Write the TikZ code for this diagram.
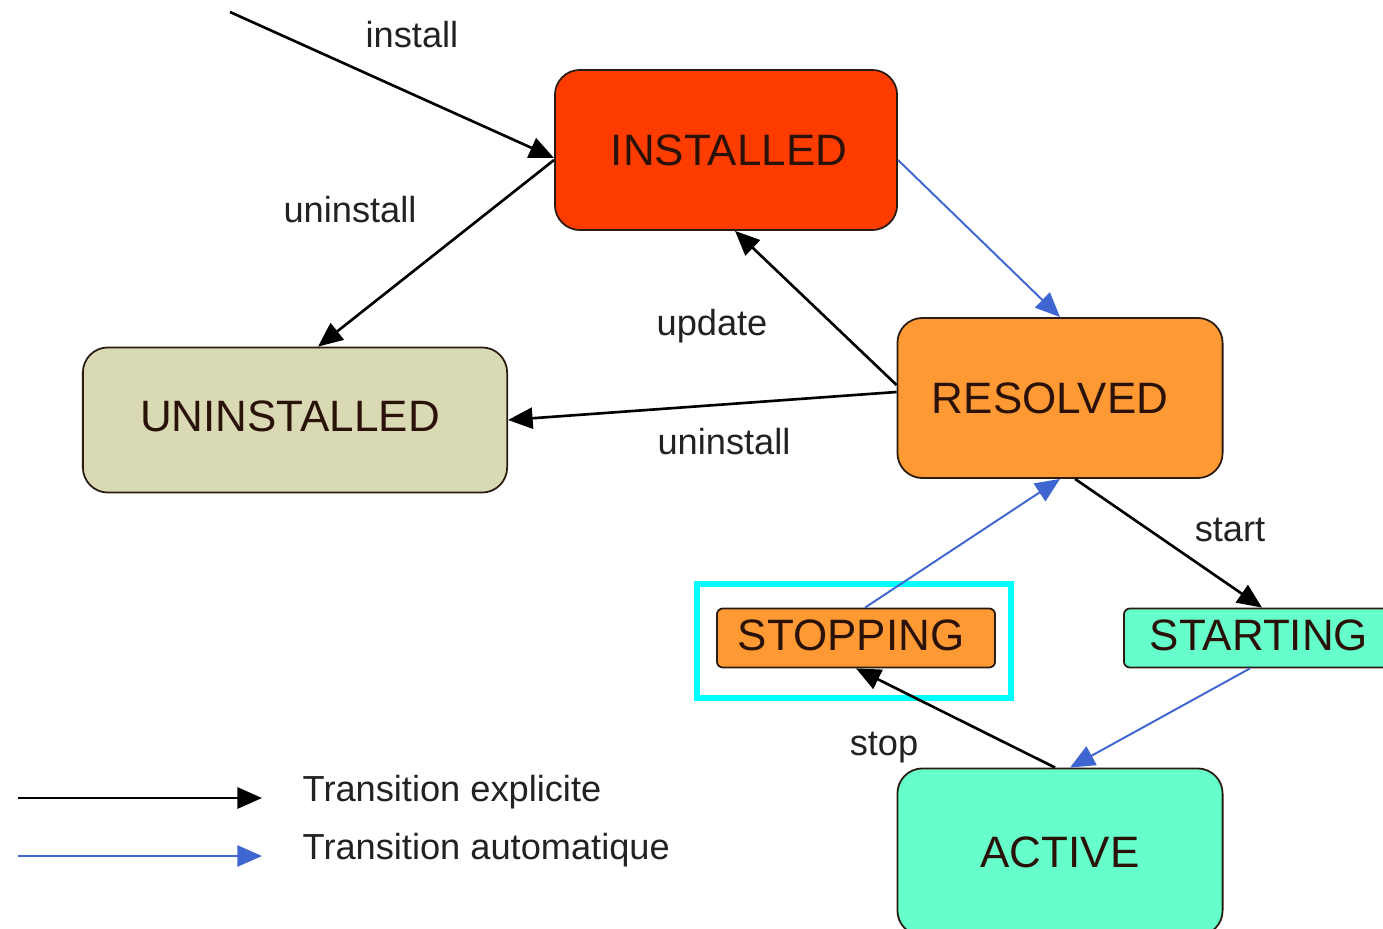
\documentclass[tikz,border=0pt]{standalone}
\usepackage{fontspec}
\setmainfont{Liberation Sans}
\usetikzlibrary{arrows.meta}
\definecolor{cinst}{HTML}{FF3C00}
\definecolor{cres}{HTML}{FF9933}
\definecolor{cact}{HTML}{66FFCC}
\definecolor{cuninst}{HTML}{D9D9B3}
\definecolor{cblue}{HTML}{3F66D0}
\definecolor{cborder}{HTML}{2A1A10}
\definecolor{ctext}{HTML}{2A1208}
\definecolor{clabel}{HTML}{222222}
\definecolor{cframe}{HTML}{00FFFF}
\newcommand{\mvtext}[3]{\raisebox{#2}{\makebox[0pt][c]{\hspace*{#1}\hspace*{#1}#3}}}
\tikzset{
  state/.style={draw=cborder, line width=0.5pt, rounded corners=0.25cm, inner sep=0pt,
    font=\fontsize{12.5}{14}\selectfont, text=ctext},
  smallstate/.style={state, rounded corners=0.06cm},
  expl/.style={draw=black, line width=0.75pt, -{Triangle[length=7pt,width=6pt]}},
  auto/.style={draw=cblue, line width=0.55pt, -{Triangle[length=7pt,width=6pt]}},
  lbl/.style={font=\fontsize{10.3}{12}\selectfont, text=clabel, inner sep=0pt},
}
\begin{document}
\begin{tikzpicture}[x=0.01cm, y=-0.01cm]
\useasboundingbox (0,0) rectangle (1383,928);
\fill[white] (0,0) rectangle (1383,928);
\begin{scope}
\clip (0,0) rectangle (1383,928);
% highlight frame
\draw[cframe, line width=0.06cm] (697,584) rectangle (1011,698);
% states
\node[state, fill=cinst, minimum width=3.42cm, minimum height=1.60cm] (inst) at (726,150) {\mvtext{0.03cm}{0cm}{INSTALLED}};
\node[state, fill=cuninst, minimum width=4.24cm, minimum height=1.45cm] (uninst) at (295,420) {\mvtext{-0.05cm}{0.07cm}{UNINSTALLED}};
\node[state, fill=cres, minimum width=3.25cm, minimum height=1.60cm] (res) at (1060,398) {\mvtext{-0.10cm}{-0.01cm}{RESOLVED}};
\node[smallstate, fill=cres, minimum width=2.78cm, minimum height=0.59cm] (stp) at (856,638) {\mvtext{-0.05cm}{0.05cm}{STOPPING}};
\node[smallstate, fill=cact, minimum width=2.76cm, minimum height=0.59cm] (stt) at (1262,638) {\mvtext{-0.03cm}{0.05cm}{STARTING}};
\node[state, fill=cact, minimum width=3.25cm, minimum height=1.67cm] (act) at (1060,852) {ACTIVE};
% connectors
\coordinate (instsrc) at (230,12);
\draw[expl] (instsrc) -- ([yshift=-0.08cm]inst.west);
\draw[expl] ([yshift=-0.10cm]inst.west) -- ([xshift=0.23cm]uninst.north);
\draw[auto] ([yshift=-0.10cm]inst.east) -- (res.north);
\draw[expl] ([yshift=0.13cm]res.west) -- ([xshift=0.09cm]inst.south);
\draw[expl] ([yshift=0.06cm]res.west) -- (uninst.east);
\draw[expl] ([xshift=0.15cm]res.south) -- (stt.north);
\draw[auto] ([xshift=-0.12cm]stt.south) -- ([xshift=0.10cm]act.north);
\draw[expl] ([xshift=-0.05cm]act.north) -- (stp.south);
\draw[auto] ([xshift=0.09cm]stp.north) -- (res.south);
% labels
\node[lbl] (linstall) at (412,35) {install};
\node[lbl] (luninst1) at (350,210) {uninstall};
\node[lbl] (lupdate) at (712,326) {update};
\node[lbl] (luninst2) at (724,442) {uninstall};
\node[lbl] (lstart) at (1230,530) {start};
\node[lbl] (lstop) at (884,748) {stop};
% legend
\coordinate (lega) at (18,798);
\coordinate (legb) at (262,798);
\coordinate (legc) at (18,856);
\coordinate (legd) at (262,856);
\draw[expl] (lega) -- (legb);
\draw[auto] (legc) -- (legd);
\node[lbl, anchor=west] (lexpl) at (302,792) {Transition explicite};
\node[lbl, anchor=west] (lauto) at (302,850) {Transition automatique};
\end{scope}
\end{tikzpicture}
\end{document}
